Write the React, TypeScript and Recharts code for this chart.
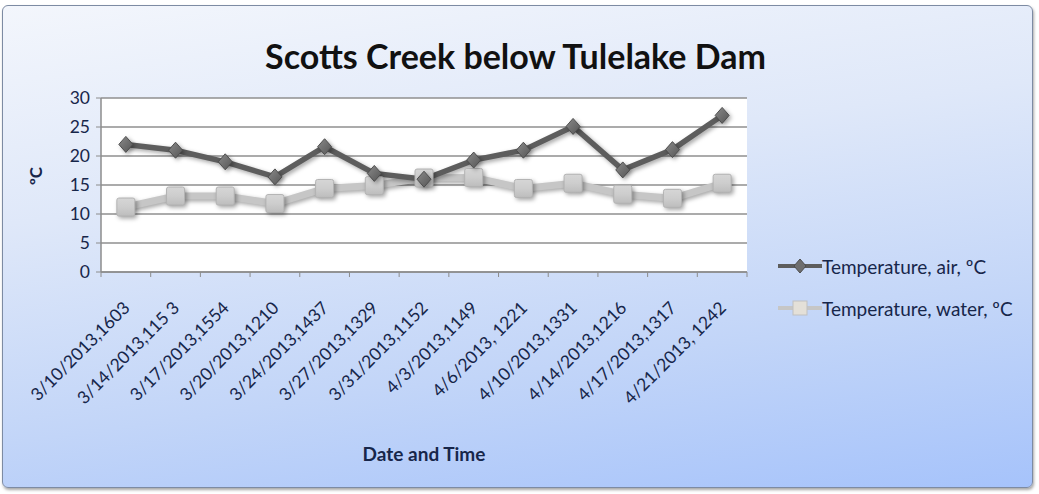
import React from "react"
import {
  LineChart,
  Line,
  XAxis,
  YAxis,
  CartesianGrid,
} from "recharts"

const dates = [
  "3/10/2013,1603",
  "3/14/2013,115 3",
  "3/17/2013,1554",
  "3/20/2013,1210",
  "3/24/2013,1437",
  "3/27/2013,1329",
  "3/31/2013,1152",
  "4/3/2013,1149",
  "4/6/2013, 1221",
  "4/10/2013,1331",
  "4/14/2013,1216",
  "4/17/2013,1317",
  "4/21/2013, 1242",
]
const airTemp = [22, 21, 19, 16.4, 21.6, 17, 16, 19.3, 21, 25.1, 17.6, 21.1, 27]
const waterTemp = [11.2, 13.1, 13.1, 11.8, 14.4, 14.9, 16.2, 16.3, 14.4, 15.3, 13.4, 12.7, 15.3]
const yTicks = [0, 5, 10, 15, 20, 25, 30]

const AIR_NAME = "Temperature, air, ºC"
const WATER_NAME = "Temperature, water, ºC"

const W = 1039
const H = 494
const PLOT_LEFT = 101
const PLOT_RIGHT = 747
const PLOT_TOP = 98
const PLOT_BOTTOM = 272
const BAND = (PLOT_RIGHT - PLOT_LEFT) / dates.length

const FONT = "Lato, 'Open Sans', sans-serif"
const TEXT = "#17264a"

const data = dates.map((d, i) => ({
  date: d,
  air: airTemp[i],
  water: waterTemp[i],
}))

const Diamond = ({ cx, cy }: any) => {
  if (cx == null || cy == null) return null
  return (
    <polygon
      points={`${cx},${cy - 8} ${cx + 7},${cy} ${cx},${cy + 8} ${cx - 7},${cy}`}
      fill="url(#airMarker)"
      stroke="#4d4d4d"
      strokeWidth={1}
    />
  )
}

const Square = ({ cx, cy }: any) => {
  if (cx == null || cy == null) return null
  return (
    <rect
      x={cx - 9}
      y={cy - 9}
      width={18}
      height={18}
      rx={2}
      fill="url(#waterMarker)"
      stroke="#b3b3b3"
      strokeWidth={1}
    />
  )
}

// category ticks sit on the band edges, labels are slanted under each band
const DateTick = ({ x, y, payload, index }: any) => {
  const left = x - BAND / 2
  const ax = x + 5
  const ay = y + 37
  return (
    <g>
      <line x1={left} y1={y} x2={left} y2={y + 5} stroke="#8c8c8c" />
      {index === dates.length - 1 && (
        <line x1={x + BAND / 2} y1={y} x2={x + BAND / 2} y2={y + 5} stroke="#8c8c8c" />
      )}
      <text
        x={ax}
        y={ay}
        transform={`rotate(-45, ${ax}, ${ay})`}
        textAnchor="end"
        fontSize={17.5}
        fontFamily={FONT}
        fill={TEXT}
      >
        {payload.value}
      </text>
    </g>
  )
}

const LegendBox = () => (
  <div style={{ fontFamily: FONT, fontSize: 19, color: TEXT, whiteSpace: "nowrap" }}>
    <div style={{ display: "flex", alignItems: "center", height: 22, marginBottom: 20 }}>
      <svg width={44} height={20}>
        <line x1={0} y1={10} x2={44} y2={10} stroke="#5d5d5d" strokeWidth={4} />
        <polygon points="22,3 28,10 22,17 16,10" fill="#6e6e6e" stroke="#4d4d4d" />
      </svg>
      <span>{AIR_NAME}</span>
    </div>
    <div style={{ display: "flex", alignItems: "center", height: 22 }}>
      <svg width={44} height={20}>
        <line x1={0} y1={10} x2={44} y2={10} stroke="#c6c6c6" strokeWidth={4} />
        <rect x={15} y={3} width={14} height={14} fill="#e4e0d8" stroke="#c0c0c0" />
      </svg>
      <span>{WATER_NAME}</span>
    </div>
  </div>
)

export default function App() {
  return (
    <div style={{ position: "relative", width: W, height: H, fontFamily: FONT }}>
      <style>{`
        body { margin: 0; }
        .recharts-line-curve { filter: drop-shadow(2px 2px 2px rgba(0,0,0,0.35)); }
        .recharts-line-dots { filter: drop-shadow(2px 2px 2px rgba(0,0,0,0.35)); }
      `}</style>
      <div
        style={{
          position: "absolute",
          left: 2,
          top: 5,
          width: 1029,
          height: 481,
          border: "1.5px solid #7d8ba3",
          borderRadius: 6,
          background:
            "linear-gradient(172deg, #f3f6fc 0%, #dfe8f9 35%, #c2d5f8 70%, #a6c3fb 100%)",
          boxShadow: "1px 2px 3px rgba(0,0,0,0.35)",
        }}
      />
      <div
        style={{
          position: "absolute",
          top: 36,
          left: 0,
          width: W,
          textAlign: "center",
          fontWeight: 700,
          fontSize: 34,
          color: "#111",
          lineHeight: "40px",
        }}
      >
        <span style={{ position: "relative", left: -4 }}>Scotts Creek below Tulelake Dam</span>
      </div>
      <div style={{ position: "absolute", left: 778, top: 255, width: 260 }}>
        <LegendBox />
      </div>
      <div style={{ position: "absolute", left: 0, top: 0 }}>
        <LineChart
          width={W}
          height={H}
          data={data}
          margin={{ top: PLOT_TOP, right: W - PLOT_RIGHT, bottom: 0, left: 0 }}
        >
          <defs>
            <linearGradient id="airMarker" x1="0" y1="0" x2="1" y2="1">
              <stop offset="0%" stopColor="#8a8a8a" />
              <stop offset="100%" stopColor="#555" />
            </linearGradient>
            <linearGradient id="waterMarker" x1="0" y1="0" x2="0" y2="1">
              <stop offset="0%" stopColor="#d6d6d6" />
              <stop offset="50%" stopColor="#cdcdcd" />
              <stop offset="100%" stopColor="#bdbdbd" />
            </linearGradient>
          </defs>
          <CartesianGrid
            vertical={false}
            fill="#ffffff"
            stroke="#8f8f8f"
            strokeWidth={1.5}
          />
          <XAxis
            dataKey="date"
            interval={0}
            height={H - PLOT_BOTTOM}
            padding={{ left: BAND / 2, right: BAND / 2 }}
            tickLine={false}
            tickSize={0}
            tickMargin={0}
            axisLine={{ stroke: "#8c8c8c", strokeWidth: 1.5 }}
            tick={<DateTick />}
            label={{
              value: "Date and Time",
              position: "insideBottom",
              offset: 33,
              fontSize: 19,
              fontWeight: 700,
              fontFamily: FONT,
              fill: TEXT,
            }}
          />
          <YAxis
            width={PLOT_LEFT}
            domain={[0, 30]}
            ticks={yTicks}
            interval={0}
            tickSize={5}
            tickMargin={6}
            axisLine={{ stroke: "#8c8c8c", strokeWidth: 1.5 }}
            tickLine={{ stroke: "#8c8c8c" }}
            tick={{ fontSize: 17.5, fontFamily: FONT, fill: TEXT }}
            label={{
              value: "ºC",
              angle: -90,
              position: "insideLeft",
              offset: 36,
              fontSize: 17,
              fontWeight: 700,
              fontFamily: FONT,
              fill: TEXT,
            }}
          />
          <Line
            name={WATER_NAME}
            dataKey="water"
            stroke="#c6c6c6"
            strokeWidth={7}
            dot={<Square />}
            activeDot={false}
            isAnimationActive={false}
          />
          <Line
            name={AIR_NAME}
            dataKey="air"
            stroke="#5d5d5d"
            strokeWidth={5.5}
            dot={<Diamond />}
            activeDot={false}
            isAnimationActive={false}
          />
        </LineChart>
      </div>
    </div>
  )
}
